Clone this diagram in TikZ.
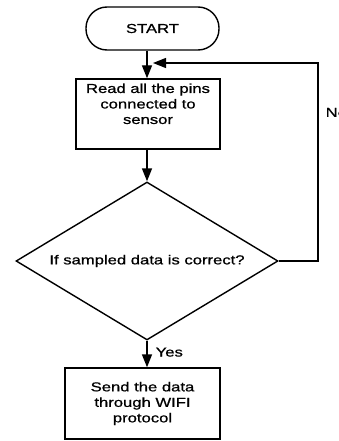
\documentclass[tikz,border=0pt]{standalone}
\usepackage{fontspec}
\setmainfont{Liberation Sans}[FakeStretch=1.28,FakeBold=0.8]
\usetikzlibrary{shapes.geometric,arrows.meta}
\begin{document}
\begin{tikzpicture}[x=1pt,y=-1pt]
                \tikzstyle{every node}+=[inner sep=0pt, font=\fontsize{13}{15.5}\selectfont]
                \tikzstyle{arr}=[line width=1.4pt, -{Triangle[length=13pt,width=10pt]}]
                \tikzstyle{block}=[draw, line width=1.4pt, align=center]
                \useasboundingbox (0,0) rectangle (339,441);
                \node [block, rounded corners=21pt, minimum width=133pt, minimum height=43pt] (start) at (152.5,28.5) {START};
                \node [block, minimum width=144pt, minimum height=70pt] (read) at (148,114) {Read all the pins\\connected to\\sensor\\[5pt]};
                \node [block, diamond, aspect=1.66, minimum width=262pt, minimum height=158pt] (check) at (147,261) {If sampled data is correct?};
                \node [block, minimum width=155pt, minimum height=71pt] (send) at (142.5,403.5) {Send the data\\through WIFI\\protocol};
                \coordinate (join) at (153,63);
                \coordinate (turn) at (318,63);
                \coordinate (corner) at (318,261);
                \draw [arr] (start.south -| check.north) -- (read.north -| check.north);
                \draw [arr] (read.south -| check.north) -- (check.north);
                \draw [arr] (check.east) -- (corner) -- node [right=7pt, pos=0.75] {No} (turn) -- (join);
                \draw [arr] (check.south) -- node [right=8pt, pos=0.43] {Yes} (check.south |- send.north);
\end{tikzpicture}
\end{document}
